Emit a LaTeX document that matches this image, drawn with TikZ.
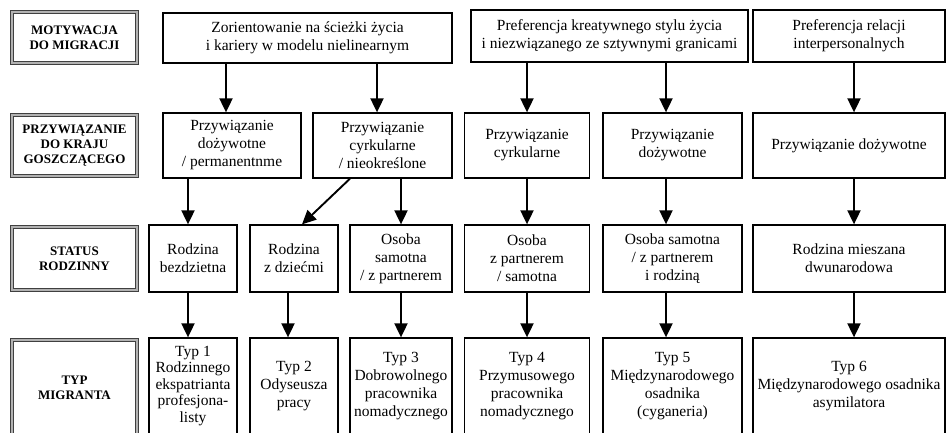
\documentclass[tikz,border=0pt]{standalone}
\usepackage{fontspec}
\setmainfont{Liberation Serif}
\usetikzlibrary{arrows.meta,positioning}

\begin{document}
\begin{tikzpicture}[
  x=1pt,y=-1pt,
  bx/.style={draw,line width=1.3pt,align=center,inner sep=1pt,font=\fontsize{15.5}{18}\selectfont},
  hd/.style={draw=black!75,line width=1pt,double=black!30,double distance=1.3pt,align=center,
    minimum width=125pt,font=\fontsize{13}{15}\selectfont\bfseries},
  a/.style={-{Triangle[length=14pt,width=13pt]},line width=1.9pt}
]
\clip (0,0) rectangle (948,432);
\node[hd,minimum height=51pt] (h1) at (74.5,37.5) {MOTYWACJA\\DO MIGRACJI};
\node[hd,minimum height=61pt] (h2) at (74.5,145.5) {PRZYWIĄZANIE\\DO KRAJU\\GOSZCZĄCEGO};
\node[hd,minimum height=63pt] (h3) at (74.5,258.5) {STATUS\\RODZINNY};
\node[hd,minimum height=96pt] (h4) at (74.5,388) {TYP\\MIGRANTA};

\node[bx,minimum width=289pt,minimum height=50pt] (m1) at (307.5,38) {Zorientowanie na ścieżki życia\\i kariery w modelu nielinearnym};
\node[bx,minimum width=277pt,minimum height=52pt] (m2) at (609.5,36) {Preferencja kreatywnego stylu życia\\i niezwiązanego ze sztywnymi granicami};
\node[bx,minimum width=192pt,minimum height=52pt] (m3) at (849,36) {Preferencja relacji\\interpersonalnych};

\node[bx,minimum width=138pt,minimum height=65pt] (p1) at (232,145.5) {Przywiązanie\\dożywotne\\/ permanentnme};
\node[bx,minimum width=139pt,minimum height=65pt] (p2) at (382.5,145.5) {Przywiązanie\\cyrkularne\\/ nieokreślone};
\node[bx,minimum width=125pt,minimum height=65pt] (p3) at (527,145.5) {Przywiązanie\\cyrkularne};
\node[bx,minimum width=139pt,minimum height=65pt] (p4) at (672.5,145.5) {Przywiązanie\\dożywotne};
\node[bx,minimum width=192pt,minimum height=65pt] (p5) at (849,145.5) {Przywiązanie dożywotne};

\node[bx,minimum width=88pt,minimum height=67pt] (s1) at (193,258.5) {Rodzina\\bezdzietna};
\node[bx,minimum width=88pt,minimum height=67pt] (s2) at (294,258.5) {Rodzina\\z dziećmi};
\node[bx,minimum width=102pt,minimum height=67pt] (s3) at (401,258.5) {Osoba\\samotna\\/ z partnerem};
\node[bx,minimum width=125pt,minimum height=67pt] (s4) at (527,258.5) {Osoba\\z partnerem\\/ samotna};
\node[bx,minimum width=139pt,minimum height=67pt] (s5) at (672.5,258.5) {Osoba samotna\\/ z partnerem\\i rodziną};
\node[bx,minimum width=192pt,minimum height=67pt] (s6) at (849,258.5) {Rodzina mieszana\\dwunarodowa};

\node[bx,minimum width=88pt,minimum height=96pt,font=\fontsize{15.5}{16.5}\selectfont] (t1) at (193,386) {Typ 1\\Rodzinnego\\ekspatrianta\\profesjona-\\listy};
\node[bx,minimum width=88pt,minimum height=96pt] (t2) at (294,386) {Typ 2\\Odyseusza\\pracy};
\node[bx,minimum width=102pt,minimum height=96pt] (t3) at (401,386) {Typ 3\\Dobrowolnego\\pracownika\\nomadycznego};
\node[bx,minimum width=125pt,minimum height=96pt] (t4) at (527,386) {Typ 4\\Przymusowego\\pracownika\\nomadycznego};
\node[bx,minimum width=139pt,minimum height=96pt] (t5) at (672.5,386) {Typ 5\\Międzynarodowego\\osadnika\\(cyganeria)};
\node[bx,minimum width=192pt,minimum height=96pt] (t6) at (849,386) {Typ 6\\Międzynarodowego osadnika\\asymilatora};

\draw[a] ([xshift=-81.5pt]m1.south) -- ([xshift=-6pt]p1.north);
\draw[a] ([xshift=69.5pt]m1.south) -- ([xshift=-5.5pt]p2.north);
\draw[a] ([xshift=-82.5pt]m2.south) -- (p3.north);
\draw[a] ([xshift=56.5pt]m2.south) -- ([xshift=-6.5pt]p4.north);
\draw[a] ([xshift=5pt]m3.south) -- ([xshift=5pt]p5.north);
\draw[a] ([xshift=-44pt]p1.south) -- ([xshift=-5pt]s1.north);
\draw[a] ([xshift=-32.5pt]p2.south) -- ([xshift=8pt]s2.north);
\draw[a] ([xshift=18.5pt]p2.south) -- (s3.north);
\draw[a] (p3.south) -- (s4.north);
\draw[a] ([xshift=-6.5pt]p4.south) -- ([xshift=-6.5pt]s5.north);
\draw[a] ([xshift=5pt]p5.south) -- ([xshift=5pt]s6.north);
\draw[a] ([xshift=-5pt]s1.south) -- ([xshift=-5pt]t1.north);
\draw[a] ([xshift=-6pt]s2.south) -- ([xshift=-6pt]t2.north);
\draw[a] (s3.south) -- (t3.north);
\draw[a] (s4.south) -- (t4.north);
\draw[a] ([xshift=-6.5pt]s5.south) -- ([xshift=-6.5pt]t5.north);
\draw[a] ([xshift=5pt]s6.south) -- ([xshift=5pt]t6.north);
\end{tikzpicture}
\end{document}
